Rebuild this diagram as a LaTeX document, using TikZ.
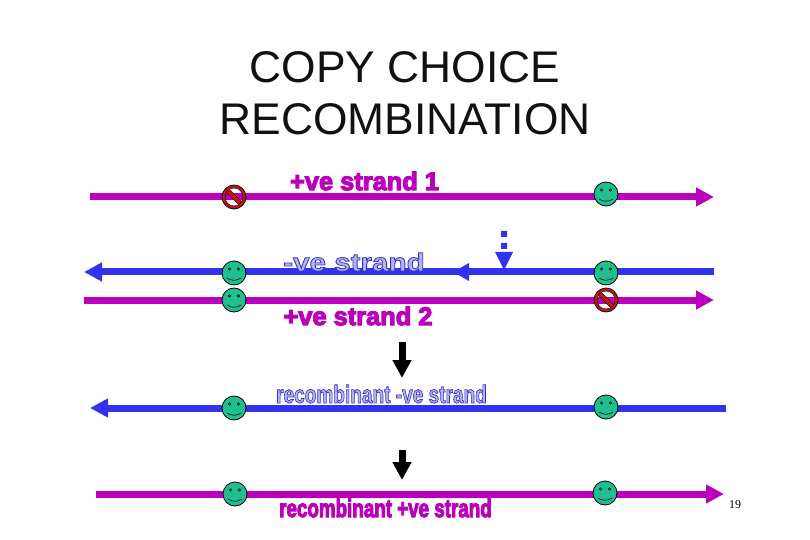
\documentclass[tikz,border=0pt]{standalone}
\usepackage{fontspec}
\usetikzlibrary{arrows.meta}
\setmainfont{Liberation Sans}
\newfontfamily\heavy[FakeBold=4.5]{Liberation Sans Bold}
\newfontfamily\heavyh[FakeBold=3]{Liberation Sans Bold}
\newfontfamily\timesf{Liberation Serif}
\definecolor{plusc}{HTML}{BB00BB}
\definecolor{minusc}{HTML}{3333EE}
\definecolor{minuslight}{HTML}{B4B4F0}
\definecolor{facec}{HTML}{1FBF8F}
\definecolor{noc}{HTML}{C01818}
\definecolor{titlec}{HTML}{111111}
\newcommand{\hollow}{\color{minuslight}\special{pdf:code 0.2 0.2 0.75 RG}}
\tikzset{
  strand/.style={line width=7bp,-{Triangle[length=18bp,width=18bp]}},
  plus/.style={draw=plusc,color=plusc},
  minus/.style={draw=minusc,color=minusc},
  downarrow/.style={black,line width=7bp,-{Triangle[length=18bp,width=18bp]}},
  ttl/.style={font=\fontsize{44.5}{44.5}\selectfont,text=titlec,inner sep=0pt},
  plab/.style={font=\heavy\fontsize{25.5}{25.5}\selectfont,inner sep=0pt,anchor=center,text=plusc},
  mlab/.style={font=\heavyh\fontsize{25}{25}\selectfont,inner sep=0pt,anchor=center,text=minusc},
  smile/.pic={
    \fill[facec,draw=black,line width=0.8bp] (0,0) circle (12);
    \draw[black,line width=0.5bp] (-4.5,-4) circle (1.3) (4.5,-4) circle (1.3);
    \draw[black,line width=0.6bp] (-7,5) .. controls (-3,8) and (3,8) .. (7,5);
  },
  noentry/.pic={
    \draw[noc,line width=4.5bp,line cap=butt] (-7.5,-7.5) -- (7.5,7.5);
    \draw[black,line width=0.35bp] (-8.8,-5.6) -- (5.6,8.8) (-5.6,-8.8) -- (8.8,5.6);
    \draw[noc,line width=3bp] (0,0) circle (10.5);
    \draw[black,line width=0.7bp] (0,0) circle (12);
    \draw[black,line width=0.4bp] (0,0) circle (9);
  }
}
\begin{document}
\begin{tikzpicture}[x=1bp,y=-1bp]
\useasboundingbox (0,0) rectangle (810,540);
\fill[white] (0,0) rectangle (810,540);
\node[ttl] (t1) at (405,67) {COPY CHOICE};
\node[ttl] (t2) at (405,119) {RECOMBINATION};

\coordinate (a1) at (90,197);  \coordinate (a2) at (714,197);
\coordinate (b1) at (714,272); \coordinate (b2) at (84,272);
\coordinate (c1) at (84,300);  \coordinate (c2) at (714,300);
\coordinate (d1) at (726,408); \coordinate (d2) at (90,408);
\coordinate (e1) at (96,494);  \coordinate (e2) at (724,494);
\coordinate (f1) at (402,342); \coordinate (f2) at (402,378);
\coordinate (g1) at (402,450); \coordinate (g2) at (402,480);

\draw[strand,plus] (a1) -- (a2);
\draw[strand,minus] (b1) -- (b2);
\fill[minusc] (453,272) -- (469,263) -- (469,281) -- cycle;
\draw[strand,plus] (c1) -- (c2);
\draw[strand,minus] (d1) -- (d2);
\draw[strand,plus] (e1) -- (e2);
\draw[downarrow] (f1) -- (f2);
\draw[downarrow] (g1) -- (g2);
\fill[minusc] (501,231) rectangle (507,237) (501,243) rectangle (507,249);
\fill[minusc] (495,252) -- (513,252) -- (504,270) -- cycle;

\pic at (234,197) {noentry};
\pic at (606,194) {smile};
\pic at (234,273) {smile};
\pic at (234,300) {smile};
\pic at (606,273) {smile};
\pic at (606,300) {noentry};
\pic at (234,408) {smile};
\pic at (606,407) {smile};
\pic at (235,494) {smile};
\pic at (605,493) {smile};

\node[plab,xscale=1.0] (l1) at (364.5,181) {+ve strand 1};
\node[mlab,xscale=1.19] (l2) at (354,262) {\hollow -ve strand};
\node[plab,xscale=1.0] (l3) at (358,316) {+ve strand 2};
\node[mlab,xscale=0.765] (l4) at (381.5,394) {\hollow recombinant -ve strand};
\node[plab,xscale=0.74] (l5) at (385.5,508) {recombinant +ve strand};
\node[font=\timesf\fontsize{12}{12}\selectfont,inner sep=0pt] (n) at (735,505) {19};
\end{tikzpicture}
\end{document}
